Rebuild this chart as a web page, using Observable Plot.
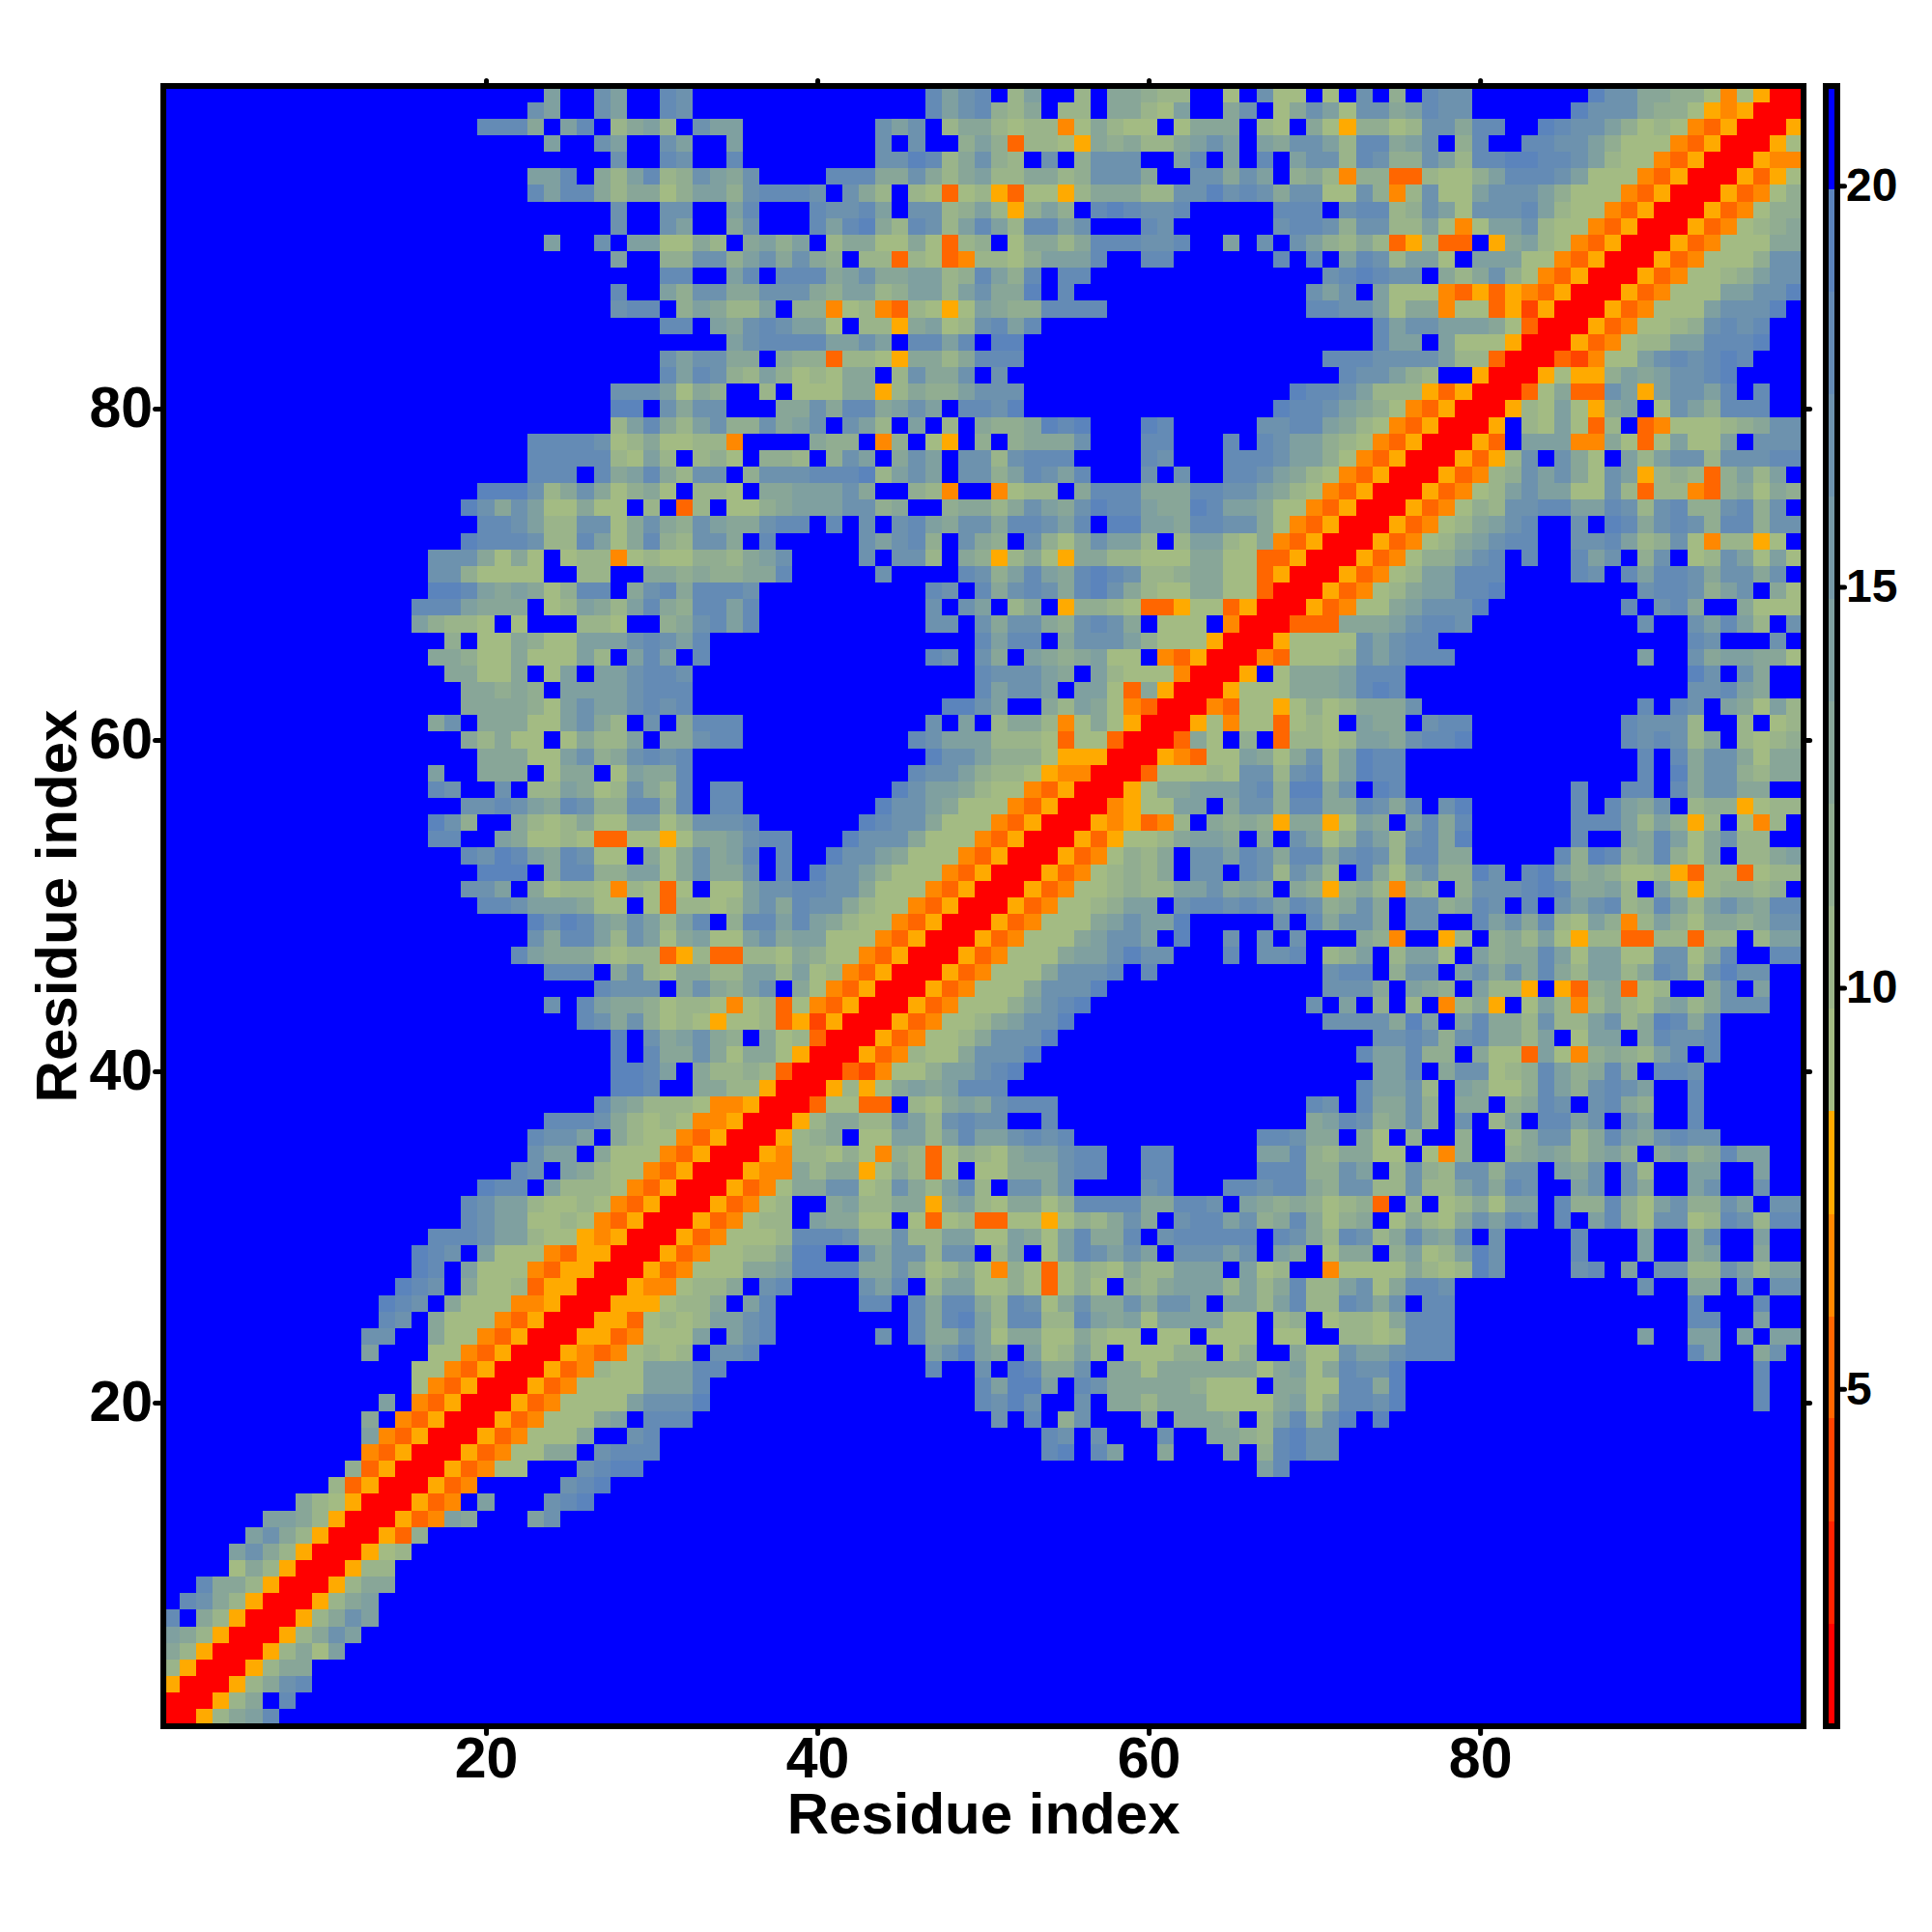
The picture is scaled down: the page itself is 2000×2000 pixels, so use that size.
<!DOCTYPE html>
<html>
<head>
<meta charset="utf-8">
<script src="https://cdn.jsdelivr.net/npm/d3@7"></script>
<script src="https://cdn.jsdelivr.net/npm/@observablehq/plot@0.6"></script>
<style>
html,body{margin:0;padding:0;background:#fff}
#chart{position:relative;width:2000px;height:2000px}
#chart svg{position:absolute;top:0;background:transparent;max-width:none}
</style>
</head>
<body>
<div id="chart"></div>
<script>
const residues = d3.range(1, 100);
const axisTicks = [20, 40, 60, 80];
const colorBarTicks = [5, 10, 15, 20];
const axisTitle = "Residue index";
const colorDomain = [0.8, 21.25];
const thresholds = [2.07, 3.35, 4.63, 5.9, 7.18, 8.46, 9.74, 11.02, 12.29, 13.57, 14.85, 16.13, 17.4, 18.68, 19.96];
const palette = ["#FF0000","#FF2200","#FF4400","#FF6600","#FF8800","#FFAA00","#A3BB83","#9AB48A","#91AD91","#88A698","#7FA0A0","#7699A7","#6D92AE","#648BB5","#5B84BC","#0000FF"];
// Which colour class each reading code stands for.
const codes = "0123456789abcde.";
const codeClass = [0, 1, 2, 3, 4, 5, 6, 6, 7, 8, 9, 10, 12, 13, 14, 15];

// Distance-class codes, one string per residue from 99 down to 1,
// covering columns 1 up to the diagonal; the map is symmetric about the diagonal.
const rows = [
".......... .......... ...b..cb.. dc........ ......dbcd .8b..8.aa9 88..7.c66. 6.c.9.dcc. ......ecca a99746500",
".......... .......... ..cb..cb.. dc........ ......dbcd 98a.88.aa8 7b..ac.7ac b7ccabdcc. .....eccca 99754500",
".......... .........d dda.bd.8ab 8.cbb..... ...cbc.8aa 878847a877 .7aaa.87.a 759968ccad d..edccb97 8743500",
".......... .......... ...b..cb.. cb..b..... ...c.c..9b 938875a9a8 8abcb.bacc b8ddabc.9d ..ddccb977 743500",
".......... .......... .......c.. dc..d..... ...cced8ac 98.c.9ccc. .bd.b.d.bc c8dc99cb8d deeddcb877 43500",
".......... .......... ..bbd.a8bd 89cbac.... dddaaca8ab 88aa89ccca ..ccacb.9a 8499338779 bdddcb7774 3500",
".......... .......... ..dbdda8aa 79bb9cdddc .ca8.87378 537758aaa8 8ccecdcacc 77c948c77b cccb977743 500",
".......... .......... .......c.. cc..bd...d ccdb.cc89b 859b9.dedc cd.....ddd .cdd89cb7c ccdb877435 00",
".......... .......... .......c.. cb..ac...d bdea8dc8bd b8ddbc...d c......cdd c9cc88b747 bbc8774350 0",
".......... .......... ...b..c.bb 77a8.ab9b. 8aa77a7389 .7aa8adddc cd..b.c.cb 98a835833. 5ab8743500",
".......... .......... .......b.. 99cc9bcaca 9.88387348 879bbbd..d d......d.d .bdc8bb7.b bb7743500",
".......... .......... .......... dd..bd.ddd abcaabb89d b9d.dd.... .......... cdedcc.a8a c9743500",
".......... .......... .......d.. b9ccaaccca 9bb89bb8bc aae.d..... .........c bc.b777435 3543500",
".......... .......... .......cdd .9ba88b.99 478438757b a99dddd... .........d dccb7aa477 352500",
".......... .......... .......... dd.bacdcbb 7.885ab78c dbd....... .......... ...dbccbbb a7300",
".......... .......... .......... ....bcdddd bbcb.ddbd. ee........ .......... ...dbb.b77 7500",
".......... .......... .......... cbccaa.a99 38875aa8ad dd........ .......... dddccccb88 300",
".......... .......... .......... dbdc98b978 6aa.8caac. c......... .......... .dccb98..5 00",
".......... .......... .......ccc b7a9..8.77 6aa58a99bc cc........ ........ed dcb8885350 0",
".......... .......... .......ee. cacc...aac addabcb.dd ce........ .......edd cba9743500",
".......... .......... .......8bd a8bc99cabc .cb8.b.8.a 99aede...e d.....ccdd ba8743500",
".......... .......... ..ddddc78a 77884....a 99.49.75.9 .9aaac...d d...d.dcbb 98743500",
".......... .......... ..ddddd87b 8.897.998. 9cb.acb.cc 8cddd....d c...dddcbb 9743500",
".......... .......... ..ddd.dabd a8cc.9cccd dde8bcb.cc 9bdcbd...c .c..ddcba8 743500",
".......... .........e eec8aca79a 7.887.aabb bca..984.. 4788.addda aaddccba87 43500",
".......... ........ec acb77a77.8 .38.779abb bcc9a..9aa 8acbaceddb aaedbba774 3500",
".......... .........d dcb88cc7ac a9cbaacdd. d.c.cdbacc addcbd.eeb baddcca743 500",
".......... ........ed ddc88db7ad 98cca.d... ..cbcd9.ca 9.c97acbb8 .8bb87a435 00",
".......... ......ccca 7a7.788478 77998abc.. ..c.cc8.a9 58a75aa887 77aa773350 0",
".......... ......cc97 777..88..a a9a99aad.. ...c....dc 9bdbadedc8 89aa773500",
".......... ......eedb aba79dd.ac dadddc.... ......dc.d acdcadeca8 77aa77300",
".......... .....dddba aa.78ba8bd a9ddbd.... ......c.cb .8a.599873 35773500",
".......... .....b9887 .7...887.. 9acdbd.... ......cc.c acca9cdca. 777.400",
".......... .......9.7 7a977bbbcd cbd....... .........d bdd.acccb9 777500",
".......... ......aa97 7a777b8.bd b.d....... ......dc.c a.ba9ab77. 43500",
".......... .......aa7 7a.7b.bbcd dc........ .........d cccba.b877 7400",
".......... ........aa 9a9.bbbbcd dd........ .........d bccb.bb73a 500",
".......... ........aa aa97bcbbcd cd........ .......eec b..a8ba743 00",
".......... ......ac.a aa77bca8.c .addd..... ......c.b. 8aa847a750 0",
".......... ........a8 a77.7a88b. aacdd..... .....dcbbb 8887377300",
".......... .........a aa77bc9acd cd........ ......eccb 999755500",
".......... ......b..a aa.7aa.7ba ad........ .....dccb9 88754400",
".......... ......dc.. c.88ba78ca 8d.dd..... ....ecbba8 7743500",
".......... ........cc dcbadc99dd 9d.dd..... ...eccba77 743500",
".......... ......ec9. .a878a77bb 79cccd.... ..edcca777 43500",
".......... ......dd.. ba77873377 57aabcdd.. .eccca7774 3500",
".......... ........dc edbadc77.a 7acabd.d.. eccba77743 500",
".......... .........e ee.add99bb 7acaac.d.e ccb9777435 00",
".......... ........cc b.a7887487 37.77bccdd cca7774350 0",
".......... .........d dcbbba77.7 38878bcadc ca87743500",
".......... .......... ..ecedbacb 8bd.9ddbdb a87743500",
".......... .......... ..caddb8cb 7ab77bcabb 77743500",
".......... .......... .dbaaa8788 35833887a9 7743500",
".......... .......... ...ddd.ac8 7aa88bb8b7 843500",
".......... .......... ......dccc .aca9bc.a7 43500",
".......... .......... ...c.dbaa9 7887478374 3500",
".......... .......... .....dcac9 7875778352 500",
".......... .......... .......e.c abca9.a783 00",
".......... .......... .......e.d aaca7aa750 0",
".......... .......... .......eed b.a8898300",
".......... .......... .......eed ..aa88500",
".......... .......... ......dba8 88744500",
".......... .......... ...dddca87 8744500",
".......... .......... ..dccb.a87 743500",
".......... .......... ..cbb.a777 43500",
".......... .......... .dc.ba8774 3500",
".......... .........e dd.b888743 500",
".......... ........dc bb87787435 00",
".......... ........dc bb77874350 0",
".......... ......dddc bb87754500",
".......... .....edc.b 777435500",
".......... .....ed.b7 77435500",
".......... ....edc.a7 7835500",
".......... ...edc.a77 744500",
".......... ...dc.a777 43500",
".......... ..cc..a774 3500",
".......... ..b...7743 500",
".......... .....77435 00",
".......... .....74350 0",
".......... ...b.43500",
".......... ..a.43500",
".......... ..b43500",
".......... ..43500",
".......... .93500",
".......... 83500",
"........a8 7500",
"......bba8 500",
".....bca85 00",
"....bca850 0",
"....7a8500",
"..daa8500",
".dca8500",
"d.a8500",
"ba8500",
"a8500",
"8500",
"500",
"00",
"0"
];

const edges = [colorDomain[0], ...thresholds, colorDomain[1]];
const classMid = d3.range(16).map(i => (edges[i] + edges[i + 1]) / 2);

const bad = [];
const cells = [];
rows.forEach((s, i) => {
  const r = 99 - i;
  const t = s.replace(/ /g, "");
  if (t.length !== r) bad.push(r + ":" + t.length);
  for (let x = 1; x <= r; x++) {
    const v = classMid[codeClass[codes.indexOf(t[x - 1])]];
    cells.push({x, y: r, v});
    if (x !== r) cells.push({x: r, y: x, v});
  }
});
if (bad.length) throw new Error("row length mismatch " + bad.join(" "));

const font = {fontFamily: "'Liberation Sans', Arial, sans-serif", fontWeight: "bold", background: "transparent"};
const axisStyle = {stroke: "#000", strokeWidth: 5, strokeLinecap: "round"};

const main = Plot.plot({
  width: 2000, height: 2000,
  marginLeft: 168.6, marginRight: 133.4, marginTop: 88.5, marginBottom: 213.5,
  style: font,
  x: {type: "band", domain: residues, padding: 0, round: false, axis: null},
  y: {type: "band", domain: residues.slice().reverse(), padding: 0, round: false, axis: null},
  color: {type: "threshold", domain: thresholds, range: palette},
  marks: [
    Plot.cell(cells, {x: "x", y: "y", fill: "v", shapeRendering: "crispEdges"}),
    Plot.frame({stroke: "#000", strokeWidth: 6}),
    Plot.axisX({anchor: "bottom", ticks: axisTicks, tickSize: 8, tickPadding: 3, fontSize: 59, label: null, ...axisStyle}),
    Plot.axisX({anchor: "top", ticks: axisTicks, tickSize: 6, tickFormat: () => "", label: null, ...axisStyle}),
    Plot.axisY({anchor: "left", ticks: axisTicks, tickSize: 8, tickPadding: 3, fontSize: 59, label: null, ...axisStyle}),
    Plot.axisY({anchor: "right", ticks: axisTicks, tickSize: 6, tickFormat: () => "", label: null, ...axisStyle}),
    Plot.text([axisTitle], {frameAnchor: "bottom", dy: 92, fontSize: 60, fontWeight: "bold", lineAnchor: "middle", text: d => d, fill: "#000"}),
    Plot.text([axisTitle], {frameAnchor: "left", dx: -109, rotate: -90, fontSize: 60, fontWeight: "bold", lineAnchor: "middle", textAnchor: "middle", text: d => d, fill: "#000"})
  ]
});
main.style.left = "0px";

const barLevels = d3.range(16).map(i => ({lo: edges[i], hi: edges[i + 1], c: palette[i]}));
const bar = Plot.plot({
  width: 120, height: 2000,
  marginLeft: 9.5, marginRight: 98.5, marginTop: 88.5, marginBottom: 213.5,
  style: font,
  x: {domain: [0, 1], axis: null},
  y: {domain: colorDomain, axis: null},
  marks: [
    Plot.rect(barLevels, {x1: () => 0, x2: () => 1, y1: "lo", y2: "hi", fill: "c", shapeRendering: "crispEdges"}),
    Plot.frame({stroke: "#000", strokeWidth: 6}),
    Plot.axisY({anchor: "right", ticks: colorBarTicks, tickSize: 7, tickPadding: 2, fontSize: 48, label: null, ...axisStyle})
  ]
});
bar.style.left = "1880px";

const host = document.getElementById("chart");
host.appendChild(main);
host.appendChild(bar);
</script>
</body>
</html>
